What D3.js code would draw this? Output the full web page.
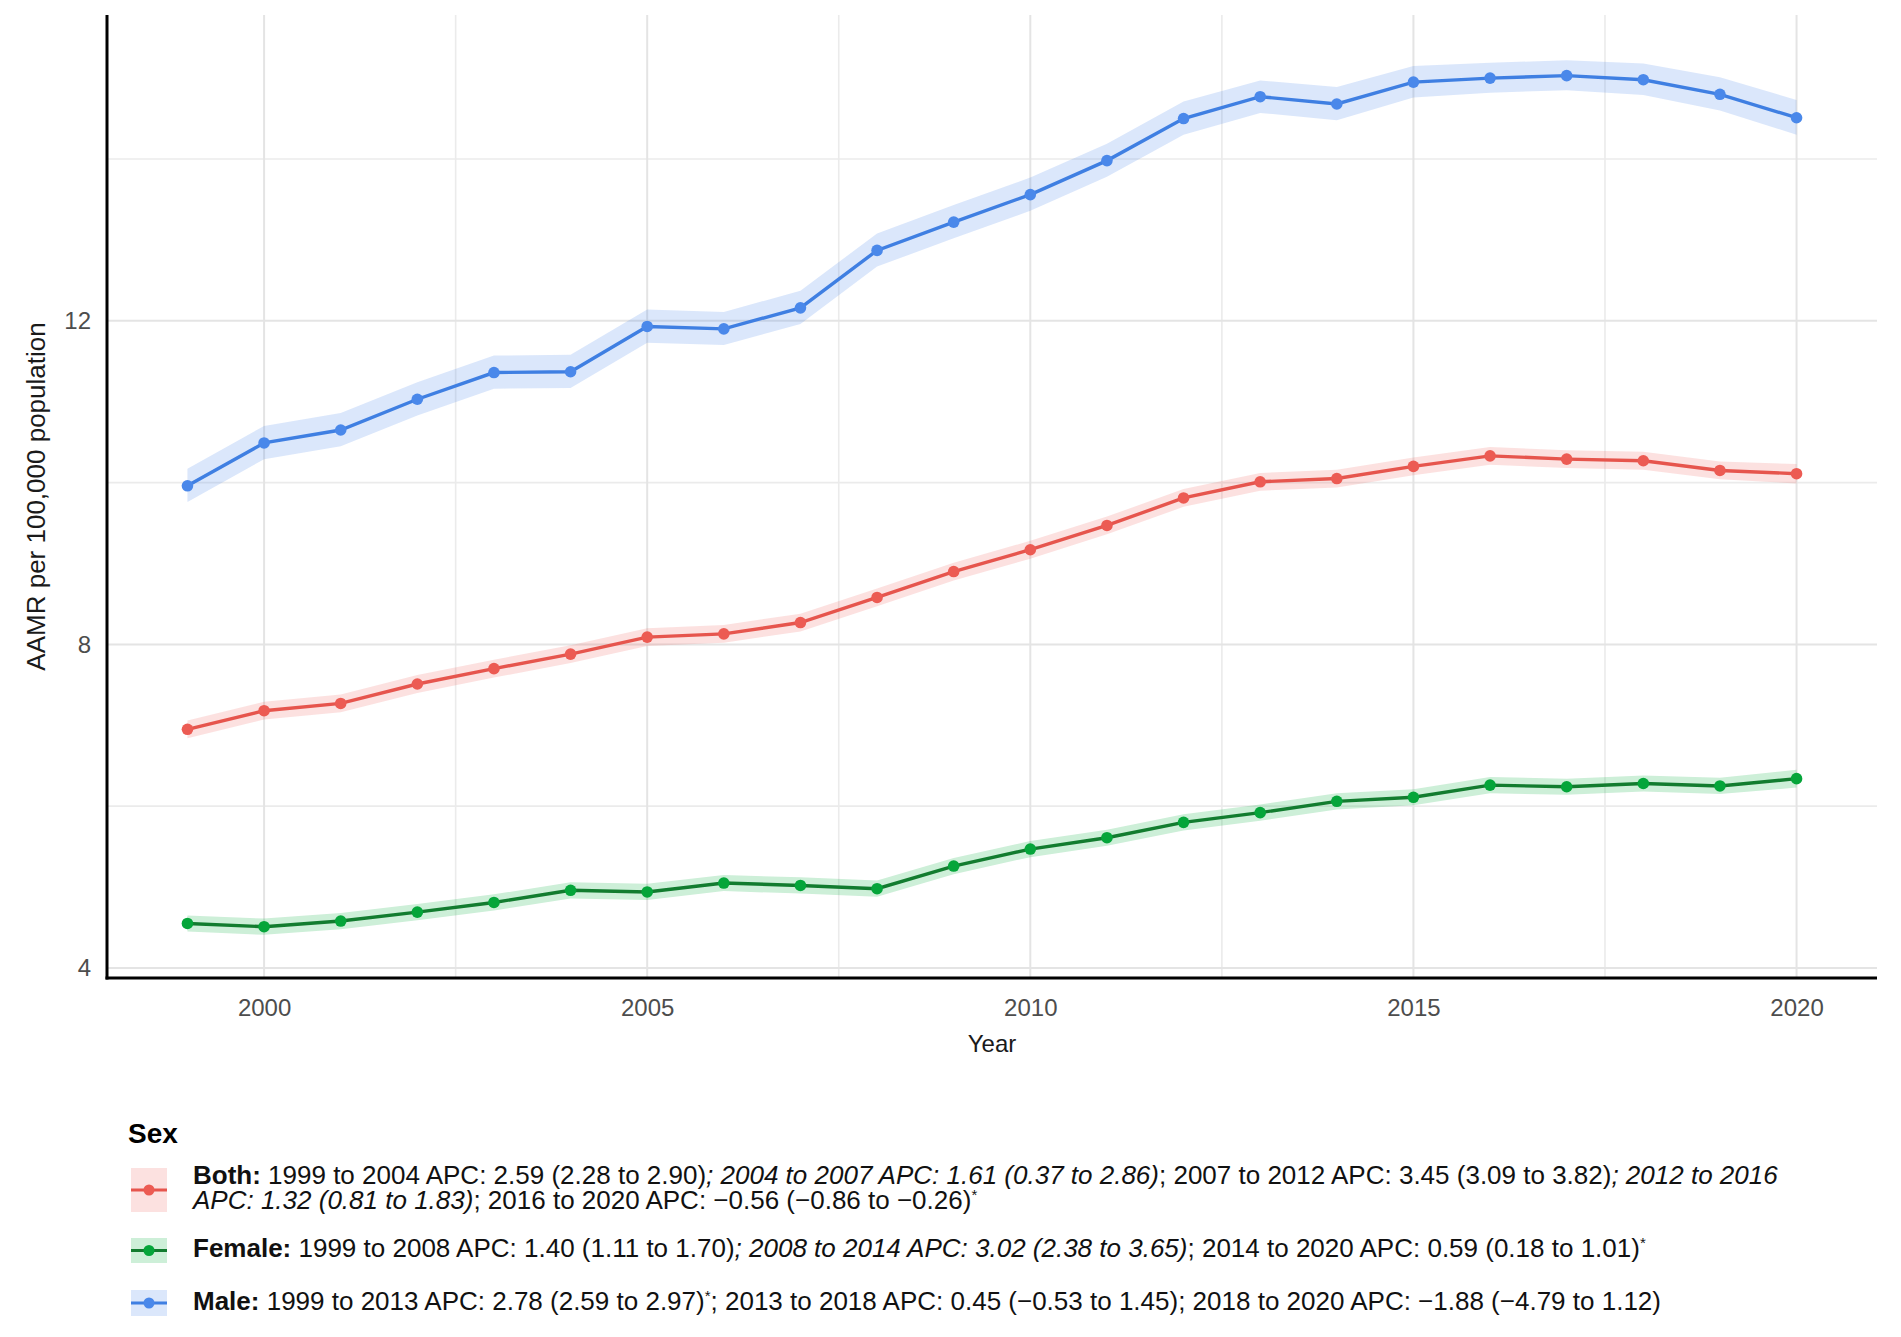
<!DOCTYPE html>
<html>
<head>
<meta charset="utf-8">
<script src="https://cdn.jsdelivr.net/npm/d3@7"></script>
<style>
  body { margin: 0; background: #fff; }
  text { font-family: "Liberation Sans", Arial, sans-serif; }
</style>
</head>
<body>
<div class="chart"></div>
<script>
var years = [1999, 2000, 2001, 2002, 2003, 2004, 2005, 2006, 2007, 2008, 2009,
             2010, 2011, 2012, 2013, 2014, 2015, 2016, 2017, 2018, 2019, 2020];

var bothRate  = [6.95, 7.18, 7.27, 7.51, 7.70, 7.88, 8.09, 8.13, 8.27, 8.58, 8.90,
                 9.17, 9.47, 9.81, 10.01, 10.05, 10.20, 10.33, 10.29, 10.27, 10.15, 10.11];
var bothLow   = [6.84, 7.07, 7.16, 7.40, 7.59, 7.77, 7.98, 8.02, 8.16, 8.47, 8.79,
                 9.06, 9.36, 9.70, 9.90, 9.94, 10.09, 10.22, 10.18, 10.16, 10.04, 9.99];
var bothHigh  = [7.06, 7.29, 7.38, 7.62, 7.81, 7.99, 8.20, 8.24, 8.38, 8.69, 9.01,
                 9.28, 9.58, 9.92, 10.12, 10.16, 10.31, 10.44, 10.40, 10.38, 10.26, 10.23];

var femaleRate = [4.55, 4.51, 4.58, 4.69, 4.81, 4.96, 4.94, 5.05, 5.02, 4.98, 5.26,
                  5.47, 5.61, 5.80, 5.92, 6.06, 6.11, 6.26, 6.24, 6.28, 6.25, 6.34];
var femaleLow  = [4.45, 4.41, 4.48, 4.59, 4.71, 4.86, 4.84, 4.95, 4.92, 4.88, 5.16,
                  5.37, 5.51, 5.70, 5.82, 5.96, 6.01, 6.16, 6.14, 6.18, 6.15, 6.23];
var femaleHigh = [4.65, 4.61, 4.68, 4.79, 4.91, 5.06, 5.04, 5.15, 5.12, 5.08, 5.36,
                  5.57, 5.71, 5.90, 6.02, 6.16, 6.21, 6.36, 6.34, 6.38, 6.35, 6.45];

var maleRate  = [9.96, 10.49, 10.65, 11.03, 11.36, 11.37, 11.93, 11.90, 12.16, 12.87, 13.22,
                 13.56, 13.98, 14.50, 14.77, 14.68, 14.95, 15.00, 15.03, 14.98, 14.80, 14.51];
var maleLow   = [9.76, 10.29, 10.45, 10.83, 11.16, 11.17, 11.73, 11.70, 11.96, 12.67, 13.02,
                 13.36, 13.78, 14.30, 14.57, 14.48, 14.76, 14.82, 14.85, 14.79, 14.60, 14.30];
var maleHigh  = [10.17, 10.70, 10.86, 11.24, 11.57, 11.58, 12.14, 12.11, 12.37, 13.08, 13.43,
                 13.77, 14.19, 14.71, 14.97, 14.89, 15.15, 15.19, 15.22, 15.18, 15.01, 14.73];

var xTicks = [2000, 2005, 2010, 2015, 2020];
var xMinor = [2002.5, 2007.5, 2012.5, 2017.5];
var yTicks = [4, 8, 12];
var yMinor = [6, 10, 14];

// legend labels: [text, style]  style: b = bold, i = italic, s = raised star
var bothLabel1 = [["Both:", "b"], [" 1999 to 2004 APC: 2.59 (2.28 to 2.90)", ""],
                  ["; 2004 to 2007 APC: 1.61 (0.37 to 2.86)", "i"],
                  ["; 2007 to 2012 APC: 3.45 (3.09 to 3.82)", ""], ["; 2012 to 2016", "i"]];
var bothLabel2 = [["APC: 1.32 (0.81 to 1.83)", "i"],
                  ["; 2016 to 2020 APC: \u22120.56 (\u22120.86 to \u22120.26)", ""], ["*", "s"]];
var femaleLabel = [["Female:", "b"], [" 1999 to 2008 APC: 1.40 (1.11 to 1.70)", ""],
                   ["; 2008 to 2014 APC: 3.02 (2.38 to 3.65)", "i"],
                   ["; 2014 to 2020 APC: 0.59 (0.18 to 1.01)", ""], ["*", "s"]];
var maleLabel = [["Male:", "b"], [" 1999 to 2013 APC: 2.78 (2.59 to 2.97)", ""], ["*", "s"],
                 ["; 2013 to 2018 APC: 0.45 (\u22120.53 to 1.45); 2018 to 2020 APC: \u22121.88 (\u22124.79 to 1.12)", ""]];

var series = [
  {name: "Both",   rate: bothRate,   low: bothLow,   high: bothHigh,
   line: "#e6554d", point: "#ec5b53", fill: "rgba(236,91,83,0.18)"},
  {name: "Female", rate: femaleRate, low: femaleLow, high: femaleHigh,
   line: "#127c2f", point: "#05a53a", fill: "rgba(5,175,60,0.2)"},
  {name: "Male",   rate: maleRate,   low: maleLow,   high: maleHigh,
   line: "#3f7fe2", point: "#4a88ea", fill: "rgba(74,136,234,0.2)"}
];

var W = 1901, H = 1337;
var pLeft = 107, pRight = 1877, pTop = 15, pBottom = 978;

var svg = d3.select(".chart").append("svg")
  .attr("width", W)
  .attr("height", H);

svg.append("rect").attr("width", W).attr("height", H).attr("fill", "#fff");

var x = d3.scaleLinear().domain([1997.95, 2021.05]).range([pLeft, pRight]);
var y = d3.scaleLinear().domain([3.876, 15.78]).range([pBottom, pTop]);

// grid
var grid = svg.append("g");
grid.selectAll(".ymin").data(yMinor).enter().append("line")
  .attr("x1", pLeft).attr("x2", pRight)
  .attr("y1", function(d) { return y(d); }).attr("y2", function(d) { return y(d); })
  .attr("stroke", "#ebebeb").attr("stroke-width", 1.6);
grid.selectAll(".xmin").data(xMinor).enter().append("line")
  .attr("y1", pTop).attr("y2", pBottom)
  .attr("x1", function(d) { return x(d); }).attr("x2", function(d) { return x(d); })
  .attr("stroke", "#ebebeb").attr("stroke-width", 1.6);
grid.selectAll(".ymaj").data(yTicks).enter().append("line")
  .attr("x1", pLeft).attr("x2", pRight)
  .attr("y1", function(d) { return y(d); }).attr("y2", function(d) { return y(d); })
  .attr("stroke", "#e4e4e4").attr("stroke-width", 2);
grid.selectAll(".xmaj").data(xTicks).enter().append("line")
  .attr("y1", pTop).attr("y2", pBottom)
  .attr("x1", function(d) { return x(d); }).attr("x2", function(d) { return x(d); })
  .attr("stroke", "#e4e4e4").attr("stroke-width", 2);

// ribbons, lines, points
var area = d3.area()
  .x(function(d) { return x(d.x); })
  .y0(function(d) { return y(d.lo); })
  .y1(function(d) { return y(d.hi); });

var line = d3.line()
  .x(function(d) { return x(d.x); })
  .y(function(d) { return y(d.y); });

series.forEach(function(s) {
  var pts = years.map(function(yr, i) {
    return {x: yr, y: s.rate[i], lo: s.low[i], hi: s.high[i]};
  });
  var g = svg.append("g");
  g.append("path").attr("d", area(pts)).attr("fill", s.fill);
  g.append("path").attr("d", line(pts))
    .attr("fill", "none").attr("stroke", s.line).attr("stroke-width", 3.4);
  g.selectAll("circle").data(pts).enter().append("circle")
    .attr("cx", function(d) { return x(d.x); })
    .attr("cy", function(d) { return y(d.y); })
    .attr("r", 5.8)
    .attr("fill", s.point);
});

// axes
var xAxis = d3.axisBottom(x).tickValues(xTicks).tickSize(0).tickPadding(21)
  .tickFormat(d3.format("d"));
var yAxis = d3.axisLeft(y).tickValues(yTicks).tickSize(0).tickPadding(16);

var xg = svg.append("g").attr("transform", "translate(0," + pBottom + ")").call(xAxis);
var yg = svg.append("g").attr("transform", "translate(" + pLeft + ",0)").call(yAxis);
[xg, yg].forEach(function(g) {
  g.select(".domain").remove();
  g.selectAll("text")
    .style("font-family", "'Liberation Sans', Arial, sans-serif")
    .style("font-size", "24px")
    .attr("fill", "#4d4d4d");
});

svg.append("line").attr("x1", pLeft).attr("x2", pLeft).attr("y1", pTop).attr("y2", pBottom + 1.5)
  .attr("stroke", "#000").attr("stroke-width", 3);
svg.append("line").attr("x1", pLeft - 1.5).attr("x2", pRight).attr("y1", pBottom).attr("y2", pBottom)
  .attr("stroke", "#000").attr("stroke-width", 3);

svg.append("text")
  .attr("x", (pLeft + pRight) / 2).attr("y", 1052)
  .attr("text-anchor", "middle")
  .style("font-size", "24px").attr("fill", "#1a1a1a")
  .text("Year");

svg.append("text")
  .attr("transform", "translate(45," + ((pTop + pBottom) / 2) + ") rotate(-90)")
  .attr("text-anchor", "middle")
  .style("font-size", "26px").attr("fill", "#1a1a1a")
  .text("AAMR per 100,000 population");

// legend
var lg = svg.append("g");
lg.append("text").attr("x", 128).attr("y", 1143)
  .style("font-size", "28px").style("font-weight", "bold").attr("fill", "#000")
  .text("Sex");

function writeLabel(parts, px, py) {
  var t = lg.append("text").attr("x", px).attr("y", py)
    .style("font-size", "26px").attr("fill", "#111");
  parts.forEach(function(p, i) {
    var ts = t.append("tspan").text(p[0]);
    if (p[1] === "b") ts.style("font-weight", "bold");
    if (p[1] === "i") ts.style("font-style", "italic");
    if (p[1] === "s") ts.style("font-size", "15px").attr("dy", -9);
    if (i > 0 && parts[i - 1][1] === "s") ts.attr("dy", 9);
  });
}

var keys = [
  {s: series[0], y0: 1168, y1: 1212},
  {s: series[1], y0: 1238, y1: 1263},
  {s: series[2], y0: 1290, y1: 1316}
];
keys.forEach(function(k) {
  var cy = (k.y0 + k.y1) / 2;
  lg.append("rect").attr("x", 131).attr("y", k.y0).attr("width", 36).attr("height", k.y1 - k.y0)
    .attr("fill", k.s.fill);
  lg.append("line").attr("x1", 131).attr("x2", 167).attr("y1", cy).attr("y2", cy)
    .attr("stroke", k.s.line).attr("stroke-width", 3.2);
  lg.append("circle").attr("cx", 149).attr("cy", cy).attr("r", 5.5).attr("fill", k.s.point);
});

writeLabel(bothLabel1, 193, 1184);
writeLabel(bothLabel2, 193, 1209);
writeLabel(femaleLabel, 193, 1257);
writeLabel(maleLabel, 193, 1310);
</script>
</body>
</html>
